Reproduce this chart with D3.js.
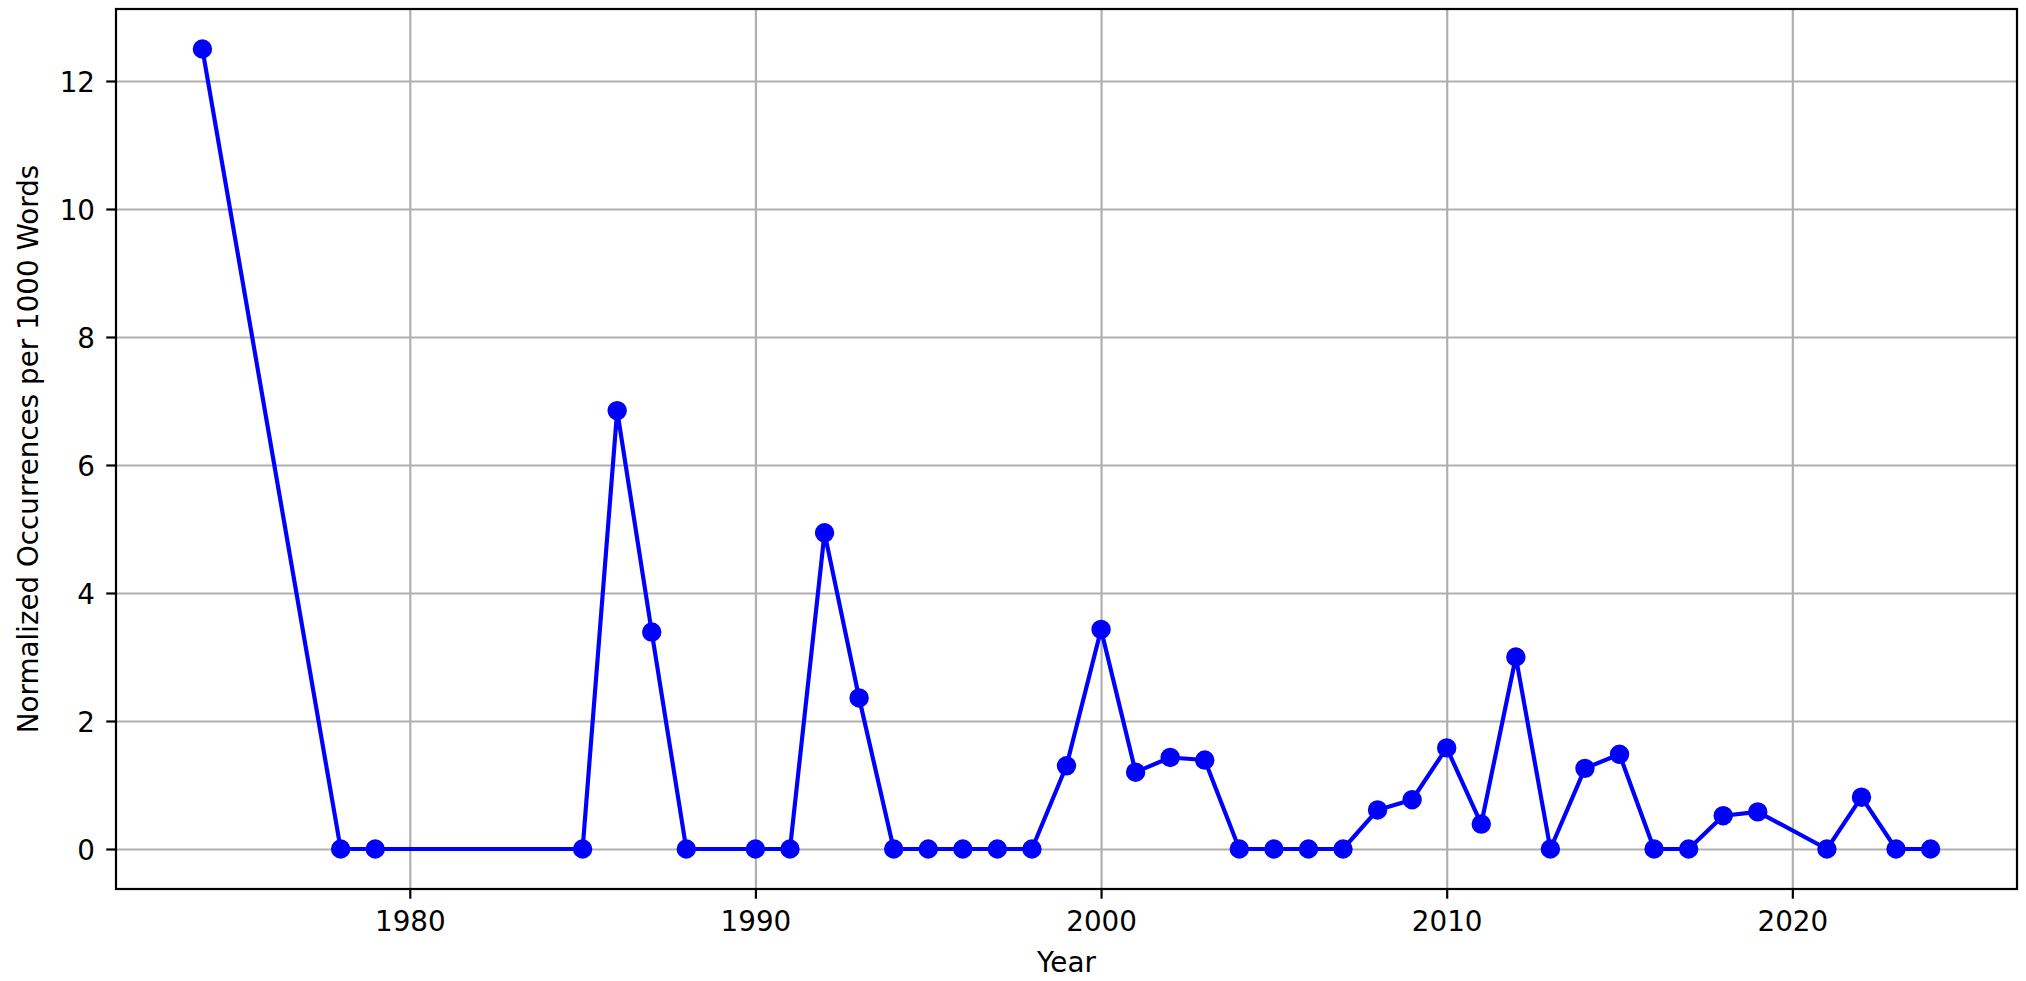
<!DOCTYPE html>
<html>
<head>
<meta charset="utf-8">
<script src="https://d3js.org/d3.v7.min.js"></script>
<style>
  body, html {
    margin: 0;
    padding: 0;
    background: #fff;
  }
  text {
    font-family: 'DejaVu Sans', sans-serif;
    fill: #000;
  }
  .grid line {
    stroke: #b0b0b0;
    stroke-width: 2.2px;
  }
  .grid path {
    display: none;
  }
  .axis path {
    display: none;
  }
  .axis line {
    stroke: #000;
    stroke-width: 2.2px;
  }
  .axis text {
    font-size: 27.78px;
  }
</style>
</head>
<body>
<div id="chart"></div>
<script>
  var years = [1974, 1978, 1979, 1985, 1986, 1987, 1988, 1990, 1991, 1992, 1993,
    1994, 1995, 1996, 1997, 1998, 1999, 2000, 2001, 2002, 2003, 2004, 2005, 2006,
    2007, 2008, 2009, 2010, 2011, 2012, 2013, 2014, 2015, 2016, 2017, 2018, 2019,
    2021, 2022, 2023, 2024];
  var occurrences = [12.5, 0, 0, 0, 6.85, 3.39, 0, 0, 0, 4.94, 2.36,
    0, 0, 0, 0, 0, 1.3, 3.43, 1.2, 1.43, 1.39, 0, 0, 0,
    0, 0.61, 0.77, 1.58, 0.39, 3.0, 0, 1.26, 1.48, 0, 0, 0.52, 0.58,
    0, 0.81, 0, 0];
  var xTicks = [1980, 1990, 2000, 2010, 2020];
  var yTicks = [0, 2, 4, 6, 8, 10, 12];

  var width = 2026, height = 981;
  var plotLeft = 116, plotRight = 2017, plotTop = 9, plotBottom = 889;

  var points = years.map((y, i) => ({year: y, value: occurrences[i]}));

  // matplotlib style 5% margins around the data
  var xMin = d3.min(years), xMax = d3.max(years);
  var xPad = (xMax - xMin) * 0.05;
  var yMin = d3.min(occurrences), yMax = d3.max(occurrences);
  var yPad = (yMax - yMin) * 0.05;

  var x = d3.scaleLinear()
    .domain([xMin - xPad, xMax + xPad])
    .range([plotLeft, plotRight]);
  var y = d3.scaleLinear()
    .domain([yMin - yPad, yMax + yPad])
    .range([plotBottom, plotTop]);

  var svg = d3.select("#chart")
    .append("svg")
    .attr("width", width)
    .attr("height", height);

  // grid
  svg.append("g")
    .attr("class", "grid")
    .attr("transform", "translate(0," + plotBottom + ")")
    .call(d3.axisBottom(x).tickValues(xTicks).tickSize(-(plotBottom - plotTop)).tickFormat(""));
  svg.append("g")
    .attr("class", "grid")
    .attr("transform", "translate(" + plotLeft + ",0)")
    .call(d3.axisLeft(y).tickValues(yTicks).tickSize(-(plotRight - plotLeft)).tickFormat(""));

  // series
  var line = d3.line()
    .x(d => x(d.year))
    .y(d => y(d.value));

  svg.append("path")
    .datum(points)
    .attr("d", line)
    .attr("fill", "none")
    .attr("stroke", "#0000ff")
    .attr("stroke-width", 4.17)
    .attr("stroke-linejoin", "round")
    .attr("stroke-linecap", "square");

  svg.append("g").selectAll("circle")
    .data(points)
    .enter()
    .append("circle")
      .attr("cx", d => x(d.year))
      .attr("cy", d => y(d.value))
      .attr("r", 8.33)
      .attr("fill", "#0000ff")
      .attr("stroke", "#0000ff")
      .attr("stroke-width", 2.78);

  // axes
  var xAxis = svg.append("g")
    .attr("class", "axis")
    .attr("transform", "translate(0," + plotBottom + ")")
    .call(d3.axisBottom(x).tickValues(xTicks).tickSize(9.72).tickPadding(9.72).tickFormat(d3.format("d")));
  xAxis.selectAll("text").attr("dy", null).attr("y", 42);

  var yAxis = svg.append("g")
    .attr("class", "axis")
    .attr("transform", "translate(" + plotLeft + ",0)")
    .call(d3.axisLeft(y).tickValues(yTicks).tickSize(9.72).tickPadding(9.72).tickFormat(d3.format("d")));
  yAxis.selectAll("text").attr("dy", null).attr("x", -21).attr("y", 10);

  // frame
  svg.append("rect")
    .attr("x", plotLeft)
    .attr("y", plotTop)
    .attr("width", plotRight - plotLeft)
    .attr("height", plotBottom - plotTop)
    .attr("fill", "none")
    .attr("stroke", "#000")
    .attr("stroke-width", 2.2);

  // labels
  svg.append("text")
    .attr("x", (plotLeft + plotRight) / 2)
    .attr("y", 972)
    .attr("text-anchor", "middle")
    .style("font-size", "27.78px")
    .text("Year");

  svg.append("text")
    .attr("transform", "translate(38," + ((plotTop + plotBottom) / 2) + ") rotate(-90)")
    .attr("text-anchor", "middle")
    .style("font-size", "27.78px")
    .text("Normalized Occurrences per 1000 Words");
</script>
</body>
</html>
